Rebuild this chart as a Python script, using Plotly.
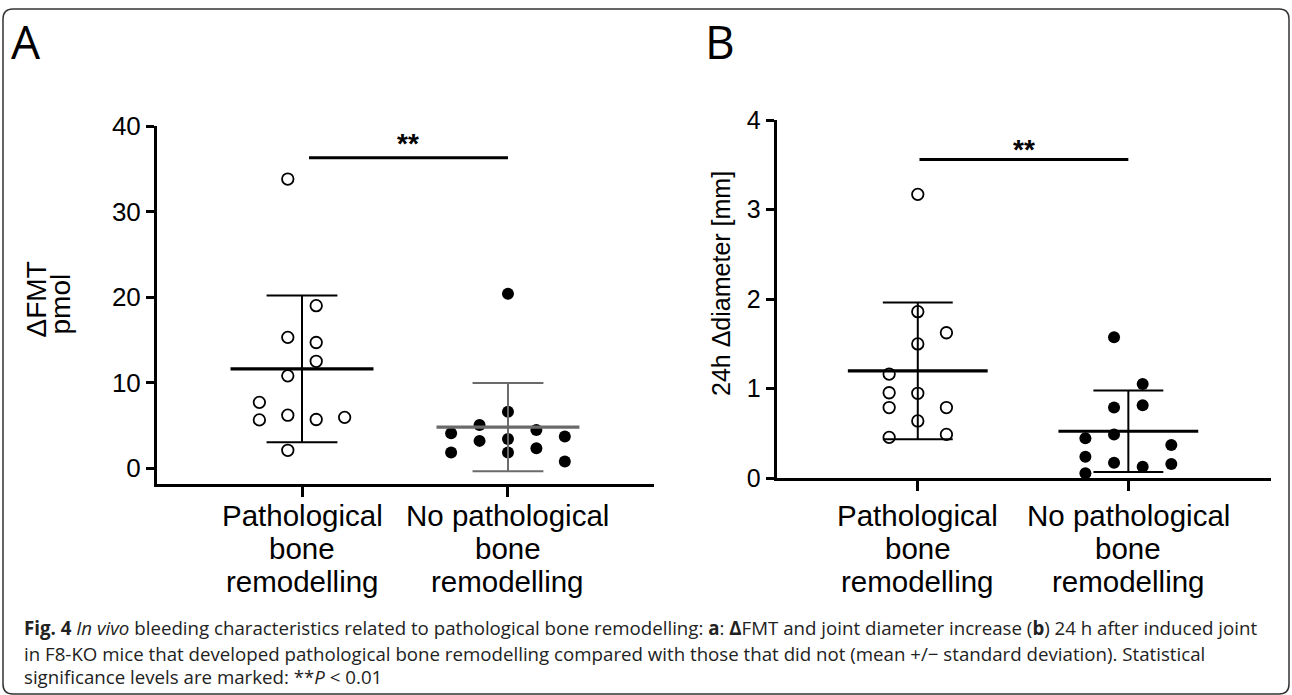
import numpy as np
import plotly.graph_objects as go

W, H = 1292, 695

# ---------------- data ----------------
cat_lines = [["Pathological", "bone", "remodelling"],
             ["No pathological", "bone", "remodelling"]]
yticks_a = [0, 10, 20, 30, 40]
yticks_b = [0, 1, 2, 3, 4]

fmt_patho = [33.8, 19.0, 15.3, 14.7, 12.5, 10.8, 7.7, 5.65, 6.2, 5.7, 5.95, 2.1]
fmt_nopatho = [20.4, 6.6, 5.06, 4.1, 4.48, 3.2, 3.43, 3.7, 1.83, 1.83, 2.34, 0.78]
diam_patho = [3.17, 1.86, 1.625, 1.50, 1.164, 0.955, 0.949, 0.79, 0.79, 0.64, 0.457, 0.49]
diam_nopatho = [1.574, 1.052, 0.79, 0.815, 0.446, 0.49, 0.372, 0.241, 0.174, 0.13, 0.16, 0.056]

# swarm slots (layout of the dot columns)
slots_a1 = [-0.5, 0.5, -0.5, 0.5, 0.5, -0.5, -1.5, -1.5, -0.5, 0.5, 1.5, -0.5]
slots_a2 = [0, 0, -1, -2, 1, -1, 0, 2, -2, 0, 1, 2]
slots_b1 = [0, 0, 1, 0, -1, -1, 0, -1, 1, 0, -1, 1]
slots_b2 = [-0.5, 0.5, -0.5, 0.5, -1.5, -0.5, 1.5, -1.5, -0.5, 0.5, 1.5, -1.5]

sig_a = {"x": [0.034, 1.0], "y": 36.3, "label_y": 38.0}
sig_b = {"x": [0.008, 1.0], "y": 3.56, "label_y": 3.675}

FONT = "Liberation Sans, Arial, sans-serif"
CAP_FONT = "Open Sans, sans-serif"


def px(x):
    return x / W


def py(y):
    return 1 - y / H


fig = go.Figure()


def add_group(xa, ya, cx, vals, slots, spacing, filled, linecolor, mean_hw, cap_hw):
    xs = [cx + s * spacing for s in slots]
    fig.add_trace(go.Scatter(
        x=xs, y=vals, mode="markers", xaxis=xa, yaxis=ya,
        marker=dict(size=12 if filled else 11.5, symbol="circle",
                    color="black" if filled else "white",
                    line=dict(color="black", width=0 if filled else 1.8)),
        showlegend=False, hoverinfo="skip"))
    m = float(np.mean(vals))
    s = float(np.std(vals, ddof=1))
    # SD bar + caps
    fig.add_trace(go.Scatter(
        x=[cx, cx, None, cx - cap_hw, cx + cap_hw, None, cx - cap_hw, cx + cap_hw],
        y=[m - s, m + s, None, m + s, m + s, None, m - s, m - s],
        mode="lines", xaxis=xa, yaxis=ya,
        line=dict(color=linecolor, width=2), showlegend=False, hoverinfo="skip"))
    # mean
    fig.add_trace(go.Scatter(
        x=[cx - mean_hw, cx + mean_hw], y=[m, m], mode="lines", xaxis=xa, yaxis=ya,
        line=dict(color=linecolor, width=3.2), showlegend=False, hoverinfo="skip"))


add_group("x", "y", 0, fmt_patho, slots_a1, 0.138, False, "black", 0.347, 0.172)
add_group("x", "y", 1, fmt_nopatho, slots_a2, 0.138, True, "#6a6a6a", 0.347, 0.172)
add_group("x2", "y2", 0, diam_patho, slots_b1, 0.136, False, "black", 0.332, 0.166)
add_group("x2", "y2", 1, diam_nopatho, slots_b2, 0.136, True, "black", 0.332, 0.166)

# significance bars
for xa, ya, sig in (("x", "y", sig_a), ("x2", "y2", sig_b)):
    fig.add_trace(go.Scatter(
        x=sig["x"], y=[sig["y"], sig["y"]], mode="lines", xaxis=xa, yaxis=ya,
        line=dict(color="black", width=3), showlegend=False, hoverinfo="skip"))

annotations = []
for xref, yref, sig in (("x", "y", sig_a), ("x2", "y2", sig_b)):
    annotations.append(dict(
        x=0.5 * (sig["x"][0] + sig["x"][1]), y=sig["label_y"], xref=xref, yref=yref,
        text="<b>**</b>", showarrow=False, font=dict(family=FONT, size=28, color="black"),
        xanchor="center", yanchor="middle"))

# category labels (one annotation per line)
line_y = [515, 548, 581]
for xref in ("x", "x2"):
    for ci, lines in enumerate(cat_lines):
        for li, t in enumerate(lines):
            annotations.append(dict(
                x=ci, y=py(line_y[li]), xref=xref, yref="paper", text=t, showarrow=False,
                font=dict(family=FONT, size=29.5, color="black"),
                xanchor="center", yanchor="middle"))

# y-axis titles
annotations.append(dict(x=px(35.5), y=py(300), xref="paper", yref="paper", text="ΔFMT",
                        textangle=-90, showarrow=False, xanchor="center", yanchor="middle",
                        font=dict(family=FONT, size=28, color="black")))
annotations.append(dict(x=px(59.5), y=py(304), xref="paper", yref="paper", text="pmol",
                        textangle=-90, showarrow=False, xanchor="center", yanchor="middle",
                        font=dict(family=FONT, size=28, color="black")))
annotations.append(dict(x=px(721), y=py(284), xref="paper", yref="paper",
                        text="24h Δdiameter [mm]", textangle=-90, showarrow=False,
                        xanchor="center", yanchor="middle",
                        font=dict(family=FONT, size=25, color="black")))

# panel letters
for letter, cx in (("A", 26), ("B", 720)):
    annotations.append(dict(x=px(cx), y=py(41), xref="paper", yref="paper", text=letter,
                            showarrow=False, xanchor="center", yanchor="middle",
                            font=dict(family=CAP_FONT, size=46, color="black")))

# caption
caption = [
    "<b>Fig. 4</b> <i>In vivo</i> bleeding characteristics related to pathological bone remodelling: "
    "<b>a</b>: <b>Δ</b>FMT and joint diameter increase (<b>b</b>) 24 h after induced joint",
    "in F8-KO mice that developed pathological bone remodelling compared with those that did not "
    "(mean +/− standard deviation). Statistical",
    "significance levels are marked: **<i>P</i> &lt; 0.01",
]
for t, yy in zip(caption, [627, 653, 676]):
    annotations.append(dict(x=px(22), y=py(yy), xref="paper", yref="paper", text=t,
                            showarrow=False, xanchor="left", yanchor="middle",
                            font=dict(family=CAP_FONT, size=18.7, color="#222222")))

# rounded border
x0, x1, y0, y1, r = 3, 1289, 9, 694, 10
pts = [
    ("M", x0, y1 - r), ("L", x0, y0 + r), ("Q", x0, y0, x0 + r, y0), ("L", x1 - r, y0),
    ("Q", x1, y0, x1, y0 + r), ("L", x1, y1 - r), ("Q", x1, y1, x1 - r, y1),
    ("L", x0 + r, y1), ("Q", x0, y1, x0, y1 - r),
]
path = ""
for p in pts:
    cmd = p[0]
    coords = p[1:]
    parts = []
    for i in range(0, len(coords), 2):
        parts.append(f"{px(coords[i]):.5f},{py(coords[i + 1]):.5f}")
    path += cmd + " " + " ".join(parts) + " "
path += "Z"

axis_common = dict(showline=True, linewidth=3, linecolor="black", ticks="outside",
                   tickwidth=3, tickcolor="black", showgrid=False, zeroline=False,
                   mirror=False, automargin=False)

fig.update_layout(
    width=W, height=H, margin=dict(l=0, r=0, t=0, b=0, pad=0, autoexpand=False),
    paper_bgcolor="white", plot_bgcolor="white", showlegend=False,
    annotations=annotations,
    shapes=[dict(type="path", path=path, xref="paper", yref="paper",
                 line=dict(color="#333333", width=1.5), fillcolor="rgba(0,0,0,0)")],
    xaxis=dict(domain=[px(157), px(654)], range=[-0.704, 1.709], tickvals=[0, 1],
               showticklabels=False, ticklen=10, anchor="y", **axis_common),
    yaxis=dict(domain=[py(484), py(126)], range=[-1.84, 40], tickvals=yticks_a,
               ticklen=8, anchor="x", tickfont=dict(family=FONT, size=26, color="black"),
               **axis_common),
    xaxis2=dict(domain=[px(776.7), px(1270.7)], range=[-0.67, 1.676], tickvals=[0, 1],
                showticklabels=False, ticklen=10, anchor="y2", **axis_common),
    yaxis2=dict(domain=[py(478.3), py(120)], range=[0, 4], tickvals=yticks_b,
                ticklen=8, anchor="x2", tickfont=dict(family=FONT, size=25, color="black"),
                **axis_common),
)

fig.write_html("out.html")
